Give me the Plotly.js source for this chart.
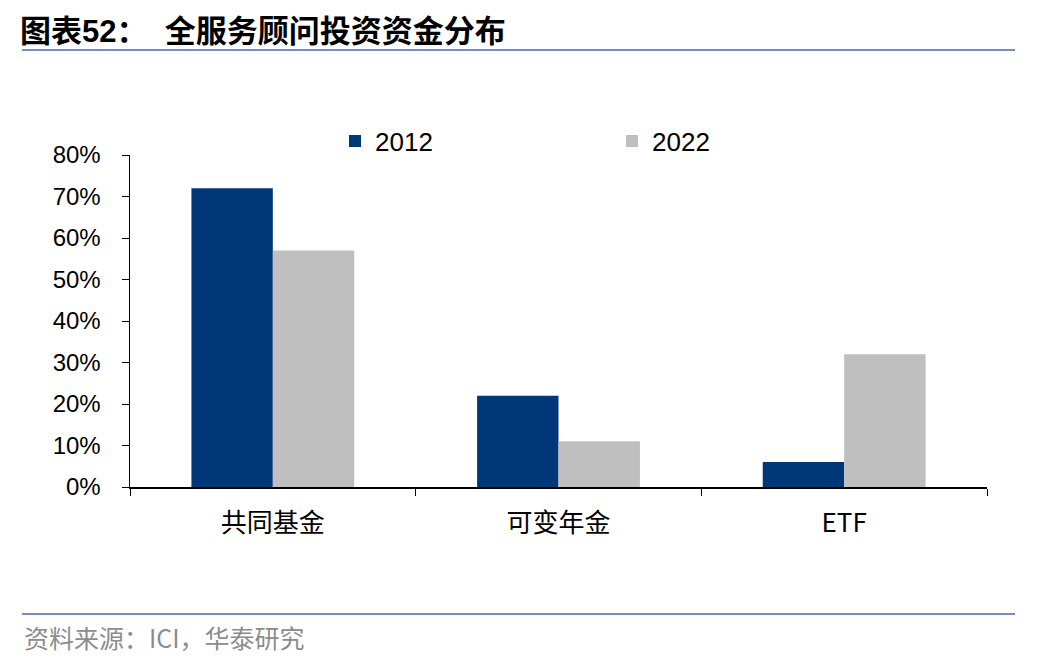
<!DOCTYPE html>
<html><head><meta charset="utf-8">
<script src="https://cdn.plot.ly/plotly-3.0.1.min.js"></script>
<style>html,body{margin:0;padding:0;background:#fff}#c{width:1048px;height:664px}</style>
</head><body><div id="c"></div>
<script>
const categories = ["共同基金", "可变年金", "ETF"];
const series2012 = [72, 22, 6];
const series2022 = [57, 11, 32];
const seriesNames = ["2012", "2022"];
const yTickVals = [0, 10, 20, 30, 40, 50, 60, 70, 80];
const yTickText = yTickVals.map(v => v + "%");

const W = 1048, H = 664, L = 130, R = 61, T = 155, B = 177;
const pw = W - L - R, ph = H - T - B;
const px = x => (x - L) / pw;
const py = y => (H - B - y) / ph;

const traces = [
  {type: "bar", name: seriesNames[0], x: categories, y: series2012, marker: {color: "#003778"}},
  {type: "bar", name: seriesNames[1], x: categories, y: series2022, marker: {color: "#BFBFBF"}}
];
const layout = {
  width: W, height: H,
  margin: {l: L, r: R, t: T, b: B},
  paper_bgcolor: "#fff", plot_bgcolor: "#fff",
  barmode: "group", bargap: 0.43, bargroupgap: 0,
  font: {family: "Liberation Sans, Arial, Noto Sans CJK SC", color: "#000", size: 24},
  title: {text: "<b>图表52：  全服务顾问投资资金分布</b>", x: 20 / W, xref: "container", xanchor: "left", y: 1 - 31 / H, yref: "container", yanchor: "middle",
          font: {family: "Liberation Sans, Noto Sans CJK SC", size: 31, color: "#000"}},
  xaxis: {type: "category", showline: true, linecolor: "#000", linewidth: 1.5, ticks: "outside", tickson: "boundaries", ticklen: 7, tickcolor: "#000",
          tickfont: {family: "Noto Sans CJK SC, Liberation Sans", size: 26}, ticklabelstandoff: 12, showgrid: false, zeroline: false, fixedrange: true},
  yaxis: {range: [0, 80], tickvals: yTickVals, ticktext: yTickText, showline: true, linecolor: "#000", linewidth: 1.5, ticks: "outside", ticklen: 7, tickcolor: "#000",
          showgrid: false, zeroline: false, tickfont: {size: 24}, ticklabelstandoff: 16},
  legend: {orientation: "h", x: px(335), xanchor: "left", y: py(141), yanchor: "middle", entrywidth: 232, font: {size: 26}, itemwidth: 20, traceorder: "normal"},
  shapes: [
    {type: "line", xref: "paper", yref: "paper", x0: px(22), x1: px(1015), y0: py(50), y1: py(50), line: {color: "#7291C2", width: 2}},
    {type: "line", xref: "paper", yref: "paper", x0: px(22), x1: px(1015), y0: py(614), y1: py(614), line: {color: "#7291C2", width: 2}}
  ],
  annotations: [
    {text: "资料来源：ICI，华泰研究", xref: "paper", yref: "paper", x: px(22), y: py(637), xanchor: "left", yanchor: "middle", showarrow: false,
     font: {family: "Noto Sans CJK SC, Liberation Sans", size: 25, color: "#8c8c8c"}}
  ]
};
Plotly.newPlot("c", traces, layout, {displayModeBar: false, staticPlot: true});
</script></body></html>
